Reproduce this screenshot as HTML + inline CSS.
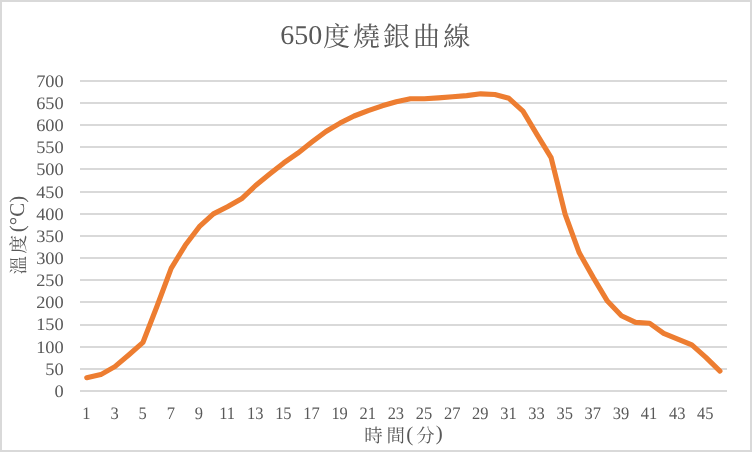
<!DOCTYPE html>
<html><head><meta charset="utf-8"><title>650度燒銀曲線</title>
<style>
html,body{margin:0;padding:0;background:#ffffff;}
body{width:752px;height:452px;overflow:hidden;position:relative;font-family:"Liberation Serif",serif;}
</style></head><body>
<svg width="752" height="452" viewBox="0 0 752 452" style="display:block;position:absolute;left:0;top:0;will-change:transform;text-rendering:geometricPrecision"><title>650度燒銀曲線</title><desc>Line chart: 溫度(°C) vs 時間(分)</desc><rect x="0" y="0" width="752" height="452" fill="#d9d9d9"/><rect x="2" y="2" width="748" height="448" fill="#ffffff"/><rect x="80" y="390" width="647" height="2" fill="#d9d9d9"/><rect x="80" y="368" width="647" height="2" fill="#d9d9d9"/><rect x="80" y="346" width="647" height="2" fill="#d9d9d9"/><rect x="80" y="324" width="647" height="2" fill="#d9d9d9"/><rect x="80" y="301" width="647" height="2" fill="#d9d9d9"/><rect x="80" y="279" width="647" height="2" fill="#d9d9d9"/><rect x="80" y="257" width="647" height="2" fill="#d9d9d9"/><rect x="80" y="235" width="647" height="2" fill="#d9d9d9"/><rect x="80" y="213" width="647" height="2" fill="#d9d9d9"/><rect x="80" y="191" width="647" height="2" fill="#d9d9d9"/><rect x="80" y="168" width="647" height="2" fill="#d9d9d9"/><rect x="80" y="146" width="647" height="2" fill="#d9d9d9"/><rect x="80" y="124" width="647" height="2" fill="#d9d9d9"/><rect x="80" y="102" width="647" height="2" fill="#d9d9d9"/><rect x="80" y="80" width="647" height="2" fill="#d9d9d9"/><g font-family="'Liberation Serif', serif" font-size="17.5" fill="#595959" text-anchor="end"><text transform="translate(63.7,396.80) scale(1.05,1)">0</text><text transform="translate(63.7,374.66) scale(1.05,1)">50</text><text transform="translate(63.7,352.51) scale(1.05,1)">100</text><text transform="translate(63.7,330.37) scale(1.05,1)">150</text><text transform="translate(63.7,308.23) scale(1.05,1)">200</text><text transform="translate(63.7,286.09) scale(1.05,1)">250</text><text transform="translate(63.7,263.94) scale(1.05,1)">300</text><text transform="translate(63.7,241.80) scale(1.05,1)">350</text><text transform="translate(63.7,219.66) scale(1.05,1)">400</text><text transform="translate(63.7,197.51) scale(1.05,1)">450</text><text transform="translate(63.7,175.37) scale(1.05,1)">500</text><text transform="translate(63.7,153.23) scale(1.05,1)">550</text><text transform="translate(63.7,131.09) scale(1.05,1)">600</text><text transform="translate(63.7,108.94) scale(1.05,1)">650</text><text transform="translate(63.7,86.80) scale(1.05,1)">700</text></g><g font-family="'Liberation Serif', serif" font-size="17.5" fill="#595959" text-anchor="middle"><text transform="translate(86.43,419) scale(0.94,1)">1</text><text transform="translate(114.56,419) scale(0.94,1)">3</text><text transform="translate(142.69,419) scale(0.94,1)">5</text><text transform="translate(170.82,419) scale(0.94,1)">7</text><text transform="translate(198.95,419) scale(0.94,1)">9</text><text transform="translate(227.08,419) scale(0.94,1)">11</text><text transform="translate(255.22,419) scale(0.94,1)">13</text><text transform="translate(283.35,419) scale(0.94,1)">15</text><text transform="translate(311.48,419) scale(0.94,1)">17</text><text transform="translate(339.61,419) scale(0.94,1)">19</text><text transform="translate(367.74,419) scale(0.94,1)">21</text><text transform="translate(395.87,419) scale(0.94,1)">23</text><text transform="translate(424.00,419) scale(0.94,1)">25</text><text transform="translate(452.13,419) scale(0.94,1)">27</text><text transform="translate(480.26,419) scale(0.94,1)">29</text><text transform="translate(508.39,419) scale(0.94,1)">31</text><text transform="translate(536.52,419) scale(0.94,1)">33</text><text transform="translate(564.65,419) scale(0.94,1)">35</text><text transform="translate(592.78,419) scale(0.94,1)">37</text><text transform="translate(620.91,419) scale(0.94,1)">39</text><text transform="translate(649.04,419) scale(0.94,1)">41</text><text transform="translate(677.17,419) scale(0.94,1)">43</text><text transform="translate(705.30,419) scale(0.94,1)">45</text></g><polyline points="86.74,377.71 100.81,374.61 114.88,366.64 128.95,354.69 143.02,342.29 157.09,305.97 171.17,268.33 185.24,245.30 199.31,226.70 213.38,213.86 227.45,206.77 241.52,198.80 255.60,185.51 269.67,174.00 283.74,162.93 297.81,153.19 311.88,142.11 325.96,131.49 340.03,123.07 354.10,115.99 368.17,110.67 382.24,105.80 396.31,101.81 410.39,98.71 424.46,98.71 438.53,97.83 452.60,96.72 466.67,95.61 480.74,93.84 494.82,94.51 508.89,98.27 522.96,111.11 537.03,134.59 551.10,157.61 565.17,214.30 579.25,252.83 593.32,277.63 607.39,301.10 621.46,315.71 635.53,322.36 649.61,323.24 663.68,333.43 677.75,339.19 691.82,344.94 705.89,357.34 719.96,371.07" fill="none" stroke="#ed7d31" stroke-width="5.1" stroke-linecap="round" stroke-linejoin="round"/><g fill="#595959" aria-label="650度燒銀曲線 / 時間(分) / 溫度(°C)"><text transform="translate(280.2,44.1) scale(1.035,1)" font-family="'Liberation Serif', serif" font-size="27.1">650</text><text x="322.9 353.1 382.9 413.0 443.3" y="45.8" font-family="'Liberation Serif', 'Noto Serif CJK SC', serif" font-size="27">度燒銀曲線</text><text x="364.2 386.4" y="441.9" font-family="'Liberation Serif', 'Noto Serif CJK SC', serif" font-size="18.5">時間</text><text x="416.2" y="441.9" font-family="'Liberation Serif', 'Noto Serif CJK SC', serif" font-size="18.5">分</text><text x="406.3" y="440.5" font-family="'Liberation Serif', serif" font-size="21">(</text><text x="435.8" y="440.4" font-family="'Liberation Serif', serif" font-size="21">)</text><g transform="rotate(-90)"><text x="-274.6 -253.6" y="25.3" font-family="'Liberation Serif', 'Noto Serif CJK SC', serif" font-size="18.5">溫度</text><text x="-232.2" y="24.0" font-family="'Liberation Serif', serif" font-size="21">(°C)</text></g></g></svg>
</body></html>
